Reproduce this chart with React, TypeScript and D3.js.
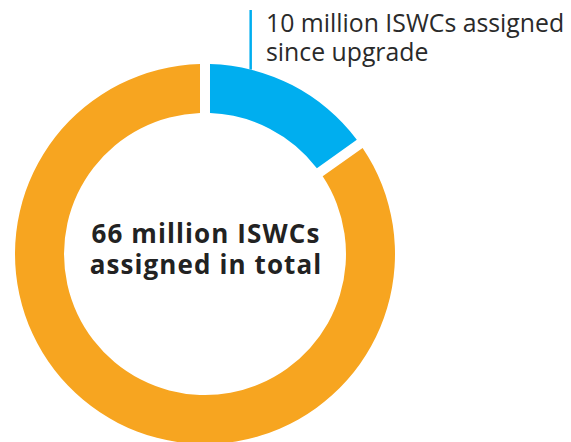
import React from 'react';
import * as d3 from 'd3';

const categories = ['Since upgrade', 'Before upgrade'];
const values = [10, 56]; // million ISWCs
const colors = ['#00AEEF', '#F7A520'];
const calloutLines = ['10 million ISWCs assigned', 'since upgrade'];
const centerLines = ['66 million ISWCs', 'assigned in total'];

const width = 571;
const height = 442;
const cx = 205;
const cy = 254;
const outerR = 190;
const innerR = 141;
const gap = 10;

export default function App() {
  const slices = d3
    .pie<number>()
    .value(d => d)
    .sort(null)(values);

  const arc = d3
    .arc<d3.PieArcDatum<number>>()
    .innerRadius(innerR)
    .outerRadius(outerR)
    .padRadius(outerR)
    .padAngle(gap / outerR);

  // callout leader sits on the blue slice, a quarter of the way in
  const s0 = slices[0];
  const a = s0.startAngle + (s0.endAngle - s0.startAngle) * 0.255;
  const lx = cx + outerR * Math.sin(a);
  const ly = cy - outerR * Math.cos(a);

  return (
    <svg
      width={width}
      height={height}
      style={{ position: 'absolute', left: 0, top: 0, background: '#fff' }}
      fontFamily="'Open Sans', Lato, sans-serif"
    >
      <g transform={`translate(${cx},${cy})`}>
        {slices.map((d, i) => (
          <path key={categories[i]} d={arc(d) as string} fill={colors[i]} />
        ))}
      </g>

      <line x1={lx} x2={lx} y1={ly} y2={10} stroke={colors[0]} strokeWidth={2.5} />
      {calloutLines.map((t, i) => (
        <text key={t} x={266} y={32 + i * 29} fontSize={24.8} fill="#2a2a2a">
          {t}
        </text>
      ))}

      {centerLines.map((t, i) => (
        <text
          key={t}
          x={cx + 1}
          y={243 + i * 31}
          fontSize={26}
          fontWeight="bold"
          letterSpacing={1.1}
          textAnchor="middle"
          fill="#222"
        >
          {t}
        </text>
      ))}
    </svg>
  );
}
